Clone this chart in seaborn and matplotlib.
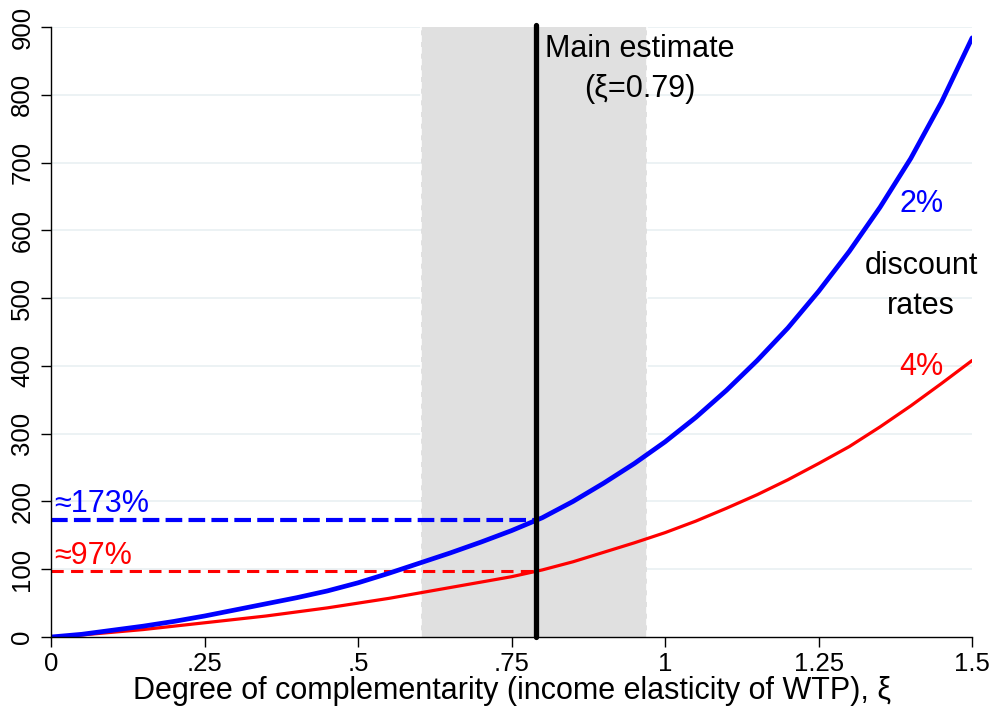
import matplotlib
matplotlib.use('Agg')
import matplotlib.pyplot as plt
import numpy as np
import pandas as pd
import seaborn as sns

# degree of complementarity (xi) and values
xi = [0.0, 0.05, 0.1, 0.15, 0.2, 0.25, 0.3, 0.35, 0.4, 0.45, 0.5, 0.55, 0.6, 0.65, 0.7, 0.75,
      0.8, 0.85, 0.9, 0.95, 1.0, 1.05, 1.1, 1.15, 1.2, 1.25, 1.3, 1.35, 1.4, 1.45, 1.5]
rate_2pct = [0, 4, 10, 16, 23, 31, 40, 49, 58, 68, 80, 94, 109, 124, 140, 157,
             176, 200, 227, 256, 288, 324, 364, 408, 456, 510, 569, 634, 706, 789, 884]
rate_4pct = [0, 3, 7, 11, 16, 21, 26, 31, 37, 43, 50, 57, 65, 73, 81, 89,
             99, 111, 125, 139, 154, 171, 190, 210, 232, 256, 281, 310, 341, 374, 408]

main_xi = 0.79
main_2pct = 173
main_4pct = 97
ci_low, ci_high = 0.603, 0.971

x_ticks = [0, 0.25, 0.5, 0.75, 1, 1.25, 1.5]
x_tick_labels = ['0', '.25', '.5', '.75', '1', '1.25', '1.5']
y_ticks = list(range(0, 1000, 100))

BLUE = '#0000ff'
RED = '#ff0000'
FONT = ['Liberation Sans', 'DejaVu Sans']

sns.set_style('white', {'text.color': 'black', 'axes.labelcolor': 'black',
                        'xtick.color': 'black', 'ytick.color': 'black'})
plt.rcParams['font.family'] = FONT

df = pd.DataFrame({'xi': xi, '2%': rate_2pct, '4%': rate_4pct})

fig = plt.figure(figsize=(9.94, 7.16), dpi=100)
ax = fig.add_axes([0.0513, 0.1103, 0.9267, 0.852])

ax.set_xlim(0, 1.5)
ax.set_ylim(0, 900)

# light horizontal grid
for y in y_ticks[1:]:
    ax.axhline(y, color='#eaf1f3', lw=1.3, zorder=0)

# confidence band
ax.axvspan(ci_low, ci_high, color='#e0e0e0', lw=0, zorder=1)
for xv in (ci_low, ci_high):
    ax.axvline(xv, color='white', lw=1.2, ls=(0, (4, 3)), zorder=1.5)

sns.lineplot(data=df, x='xi', y='4%', color=RED, lw=2.3, ax=ax, zorder=3)
sns.lineplot(data=df, x='xi', y='2%', color=BLUE, lw=3.4, ax=ax, zorder=4,
             solid_capstyle='round')

# dashed guides to the main estimate
ax.plot([0, main_xi], [main_2pct, main_2pct], color=BLUE, lw=3.0,
        dashes=(4, 1.5), zorder=3)
ax.plot([0, main_xi], [main_4pct, main_4pct], color=RED, lw=2.2,
        dashes=(4, 2.4), zorder=3)

ax.axvline(main_xi, ymin=0, ymax=1.003, color='black', lw=3.8, zorder=5,
           solid_capstyle='round', clip_on=False)

ax.text(0.006, 196, '≈173%', color=BLUE, fontsize=22, ha='left', va='center')
ax.text(0.006, 119, '≈97%', color=RED, fontsize=22, ha='left', va='center')

ax.text(0.959, 868, 'Main estimate', fontsize=22, ha='center', va='center')
ax.text(0.959, 809, '(ξ=0.79)', fontsize=22, ha='center', va='center')

ax.text(1.417, 639, '2%', color=BLUE, fontsize=22, ha='center', va='center')
ax.text(1.417, 547, 'discount', fontsize=22, ha='center', va='center')
ax.text(1.417, 488, 'rates', fontsize=22, ha='center', va='center')
ax.text(1.417, 398, '4%', color=RED, fontsize=22, ha='center', va='center')

ax.set_xticks(x_ticks)
ax.set_xticklabels(x_tick_labels)
ax.set_yticks(y_ticks)
ax.set_yticklabels([str(v) for v in y_ticks], rotation=90, va='center')
ax.tick_params(axis='both', direction='out', length=7, width=1, color='black',
               labelcolor='black', labelsize=18.5, pad=4, bottom=True, left=True)
ax.tick_params(axis='y', pad=5)

ax.set_xlabel('Degree of complementarity (income elasticity of WTP), ξ',
              fontsize=22, labelpad=0)
ax.set_ylabel('')

for side in ('top', 'right'):
    ax.spines[side].set_visible(False)
for side in ('left', 'bottom'):
    ax.spines[side].set_color('black')
    ax.spines[side].set_linewidth(1.0)
    ax.spines[side].set_zorder(6)

fig.savefig('out.png', dpi=100)
